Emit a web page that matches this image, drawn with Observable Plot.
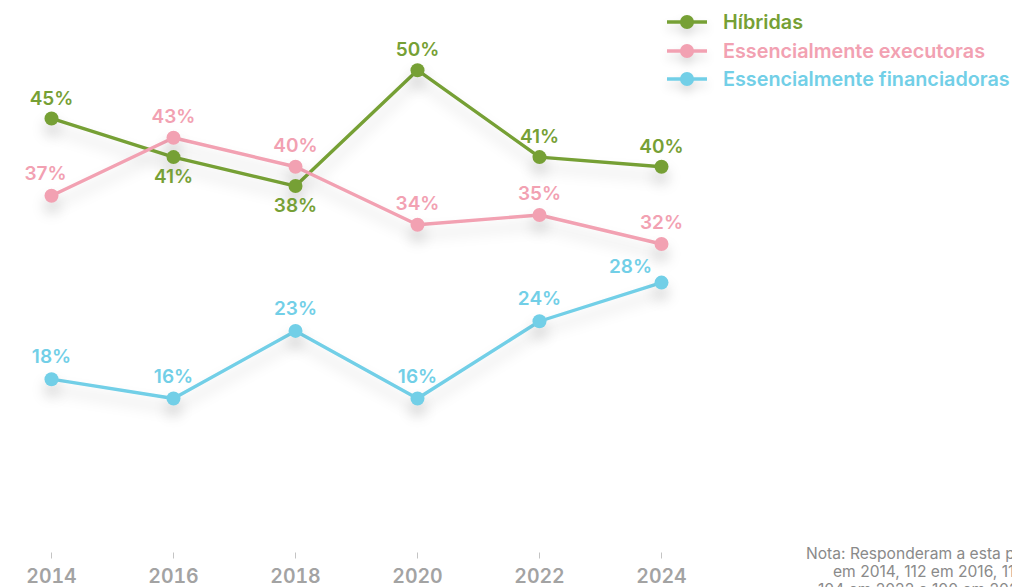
<!DOCTYPE html>
<html>
<head>
<meta charset="utf-8">
<script src="https://cdn.jsdelivr.net/npm/d3@7"></script>
<script src="https://cdn.jsdelivr.net/npm/@observablehq/plot@0.6"></script>
<style>
  html, body { margin: 0; padding: 0; background: #fff; overflow: hidden; }
  #wrap { position: relative; width: 1012px; height: 587px; overflow: hidden; font-family: Inter, "Noto Sans", sans-serif; }
  #chart svg { display: block; }
  #chart g[aria-label="line"], #chart g[aria-label="dot"] { filter: drop-shadow(0px 10px 7px rgba(0,0,0,0.16)); }
  #legend { position: absolute; left: 666px; top: 8px; }
  #legend .item { display: flex; align-items: center; height: 28.5px; font-size: 19.8px; font-weight: 600; white-space: nowrap; }
  #legend svg { margin-right: 15px; filter: drop-shadow(0px 6px 5px rgba(0,0,0,0.14)); overflow: visible; }
  #note { position: absolute; left: 806px; top: 545px; font-size: 15.6px; color: #8a8a8a; line-height: 18px; white-space: nowrap; font-weight: 400; }
  #note div:nth-child(2) { padding-left: 27px; }
  #note div:nth-child(3) { padding-left: 12px; }
</style>
</head>
<body>
<div id="wrap">
  <div id="chart"></div>
  <div id="legend"></div>
  <div id="note"></div>
</div>
<script>
const years = [2014, 2016, 2018, 2020, 2022, 2024];
const hibridas = [45, 41, 38, 50, 41, 40];
const executoras = [37, 43, 40, 34, 35, 32];
const financiadoras = [18, 16, 23, 16, 24, 28];
const seriesNames = ["Híbridas", "Essencialmente executoras", "Essencialmente financiadoras"];
const seriesColors = ["#76a035", "#f2a1b2", "#72cfe7"];
const noteLines = [
  "Nota: Responderam a esta pergunta 117 organizações",
  "em 2014, 112 em 2016, 116 em 2018, 106 em 2020,",
  "104 em 2022 e 100 em 2024."
];

const seriesValues = [hibridas, executoras, financiadoras];
const data = [];
seriesNames.forEach((name, s) => {
  years.forEach((yr, i) => {
    data.push({ series: name, year: yr, value: seriesValues[s][i], idx: i });
  });
});

const color = { domain: seriesNames, range: seriesColors };
const labelFont = { fontSize: 19, fontWeight: 600, fontFamily: "Inter, 'Noto Sans', sans-serif" };
const fmt = d => d.value + "%";

const isGreenAbove = d => d.series === seriesNames[0] && hibridas[d.idx] >= executoras[d.idx];
const isGreenBelow = d => d.series === seriesNames[0] && hibridas[d.idx] < executoras[d.idx];
const lastIdx = years.length - 1;

const chart = Plot.plot({
  width: 1012,
  height: 587,
  marginLeft: 51,
  marginRight: 351,
  marginTop: 21.4,
  marginBottom: 34.5,
  style: { background: "transparent", overflow: "visible" },
  x: { domain: [2014, 2024], label: null, ticks: years, tickFormat: "d" },
  y: { domain: [0, 55], axis: null },
  color,
  marks: [
    Plot.axisX({
      ticks: years, tickFormat: "d", tickSize: 6, tickPadding: 10, label: null,
      stroke: "#c4c4c4", fill: "#a3a3a3", fontSize: 19.5, fontWeight: 600,
      fontFamily: "Inter, 'Noto Sans', sans-serif"
    }),
    Plot.line(data, { x: "year", y: "value", z: "series", stroke: "series", strokeWidth: 3.4 }),
    Plot.dot(data, { x: "year", y: "value", fill: "series", r: 7 }),
    Plot.text(data.filter(isGreenAbove), { x: "year", y: "value", text: fmt, fill: "series", dy: -20, ...labelFont }),
    Plot.text(data.filter(isGreenBelow), { x: "year", y: "value", text: fmt, fill: "series", dy: 20, ...labelFont }),
    Plot.text(data.filter(d => d.series === seriesNames[1] && d.idx === 0), { x: "year", y: "value", text: fmt, fill: "series", dy: -22, dx: -6, ...labelFont }),
    Plot.text(data.filter(d => d.series === seriesNames[1] && d.idx !== 0), { x: "year", y: "value", text: fmt, fill: "series", dy: -21, ...labelFont }),
    Plot.text(data.filter(d => d.series === seriesNames[2] && d.idx !== lastIdx), { x: "year", y: "value", text: fmt, fill: "series", dy: -22, ...labelFont }),
    Plot.text(data.filter(d => d.series === seriesNames[2] && d.idx === lastIdx), { x: "year", y: "value", text: fmt, fill: "series", dy: -15.5, dx: -31, ...labelFont })
  ]
});
document.getElementById("chart").appendChild(chart);

// legend
const legend = document.getElementById("legend");
seriesNames.forEach((name, i) => {
  const item = document.createElement("div");
  item.className = "item";
  item.style.color = seriesColors[i];
  const svg = d3.create("svg").attr("width", 42).attr("height", 16);
  svg.append("line").attr("x1", 1).attr("x2", 41).attr("y1", 8).attr("y2", 8)
    .attr("stroke", seriesColors[i]).attr("stroke-width", 3.4);
  svg.append("circle").attr("cx", 21).attr("cy", 8).attr("r", 7).attr("fill", seriesColors[i]);
  item.appendChild(svg.node());
  const span = document.createElement("span");
  span.textContent = name;
  item.appendChild(span);
  legend.appendChild(item);
});

// note
const note = document.getElementById("note");
noteLines.forEach(l => {
  const div = document.createElement("div");
  div.textContent = l;
  note.appendChild(div);
});
</script>
</body>
</html>
